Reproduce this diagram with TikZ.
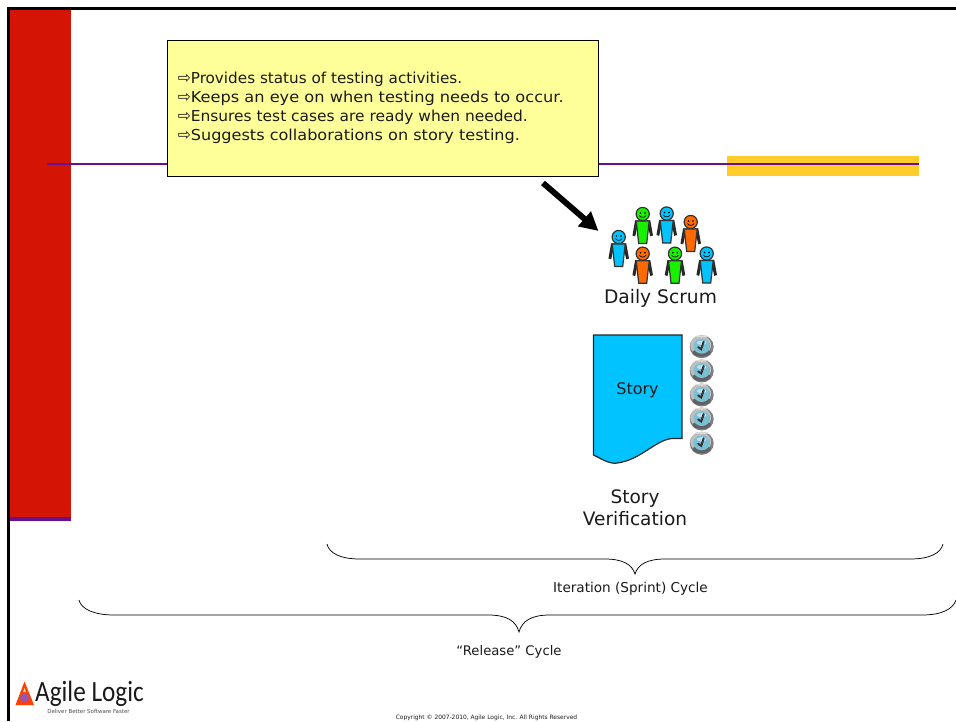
\documentclass[tikz,border=0pt]{standalone}
\usepackage{fontspec}
\usepackage{graphicx}
\setmainfont{DejaVu Sans}
\newfontfamily\logofont{Carlito}
\usetikzlibrary{arrows.meta}
\definecolor{slidered}{HTML}{D41405}
\definecolor{slidepurple}{HTML}{6A0F8E}
\definecolor{slidegold}{HTML}{FFCC29}
\definecolor{noteyellow}{HTML}{FFFF99}
\definecolor{figblue}{HTML}{00C3FF}
\definecolor{figgreen}{HTML}{19F000}
\definecolor{figorange}{HTML}{FF6A00}
\definecolor{clockface}{HTML}{79BFD6}
\definecolor{txt}{HTML}{1A1A1A}
\newcommand{\noteline}[2]{{\fontsize{13pt}{14.25pt}\selectfont\raisebox{-0.2pt}{\scalebox{0.9}[0.95]{⇨}}}\scalebox{#1}[1]{#2}}
\tikzset{
  label text/.style={inner sep=0pt,text=txt,align=center},
  brace line/.style={draw=black,line width=0.55pt},
  person/.pic={
    \draw[line width=1pt,draw=black!85,fill=#1!55!black] (-7,7) -- (-9.5,21) -- (-8,21.5) -- (-6,12) -- (6,12) -- (8,21.5) -- (9.5,21) -- (7,7) -- cycle;
    \draw[line width=0.9pt,draw=black!80,fill=#1] (-6.5,7) -- (6.5,7) -- (4,29.5) -- (-4,29.5) -- cycle;
    \draw[line width=0.9pt,draw=black!80,fill=#1] (0,0) circle[radius=6.6];
    \fill[black] (-2.2,-1) circle[radius=0.9] (2.2,-1) circle[radius=0.9];
    \draw[line width=0.5pt] (-3.4,1.5) .. controls (-1.7,4) and (1.7,4) .. (3.4,1.5);
  },
  clockpic/.pic={
    \fill[black!50] (0,0) ellipse[x radius=12,y radius=11.5];
    \fill[black!25] (-1,-1.5) ellipse[x radius=10.5,y radius=9.5];
    \fill[black!62] (0,6) ellipse[x radius=9,y radius=4];
    \fill[black!15] (0,-10.3) ellipse[x radius=7,y radius=1];
    \fill[clockface] (0,-0.5) ellipse[x radius=8.3,y radius=7.5];
    \fill[clockface!50!white] (0,-4) ellipse[x radius=5,y radius=2.2];
    \draw[line width=1.5pt,black!80,line cap=round] (-3.5,0.5) -- (-0.5,2.5) -- (2,-5);
  }
}
\begin{document}
\begin{tikzpicture}[x=0.75pt,y=-0.75pt]
\useasboundingbox (0,0) rectangle (956,721);
\clip (0,0) rectangle (956,721);
% frame
\fill[black] (7,7) rectangle (956,9.5);
\fill[black] (7,7) rectangle (10,721);
\fill[slidered] (10,9.5) rectangle (71,517);
\fill[slidepurple] (10,517) rectangle (71,521);
\fill[slidegold] (727,156) rectangle (919,176);
\draw[slidepurple,line width=1.5pt] (47,164) -- (919,164);
% note
\node[draw=black,line width=0.8pt,fill=noteyellow,minimum width=323.5pt,minimum height=102pt,inner sep=0pt,anchor=north west] (note) at (167,40) {};
\node[inner sep=0pt,anchor=north west,text=txt,align=left,font=\fontsize{11.3pt}{14.25pt}\selectfont] (notetext) at (177.5,72) {\noteline{1.01}{Provides status of testing activities.}\\\noteline{1.075}{Keeps an eye on when testing needs to occur.}\\\noteline{1.025}{Ensures test cases are ready when needed.}\\\noteline{1.068}{Suggests collaborations on story testing.}};
% arrow
\coordinate (arrowstart) at (543,183);
\coordinate (arrowend) at (598.5,231);
\draw[line width=4.4pt,black,-{Triangle[length=14pt,width=14pt]}] (arrowstart) -- (arrowend);
% people
\pic at (618.7,237) {person=figblue};
\pic at (642.7,214) {person=figgreen};
\pic at (666.7,213.5) {person=figblue};
\pic at (690.7,222) {person=figorange};
\pic at (642.7,253.7) {person=figorange};
\pic at (675,253.7) {person=figgreen};
\pic at (706.7,253.5) {person=figblue};
\node[label text,font=\fontsize{14pt}{16pt}\selectfont] (scrum) at (660.5,298) {Daily Scrum};
% story
\draw[draw=black!85,line width=0.9pt,fill=figblue] (593.5,335) -- (682,335) -- (682,438.5) -- (672,438.5) .. controls (655,440) and (640,461) .. (615,463.3) .. controls (607,463) and (600,458) .. (593.5,455) -- cycle;
\node[label text,font=\fontsize{12pt}{14pt}\selectfont] (story) at (637.5,390) {Story};
% clocks
\foreach \yy in {346.7,371,395,419,443.3}{\pic at (701.7,\yy) {clockpic};}
\node[label text,font=\fontsize{13.9pt}{16.5pt}\selectfont] (verif) at (635,508) {Story\\Verification};
% braces
\draw[brace line] (327,544) .. controls (329,553) and (340,559) .. (360,559) -- (605,559) .. controls (622,559) and (632,564) .. (635,574) .. controls (638,564) and (648,559) .. (665,559) -- (910,559) .. controls (930,559) and (941,553) .. (943,544);
\node[label text,font=\fontsize{10.2pt}{12pt}\selectfont] (iter) at (630.5,589) {Iteration (Sprint) Cycle};
\draw[brace line] (79,600) .. controls (81,609) and (94,615) .. (114,615) -- (488,615) .. controls (507,615) and (516,621) .. (519,632) .. controls (522,621) and (531,615) .. (550,615) -- (922,615) .. controls (942,615) and (953,609) .. (956,600);
\node[label text,font=\fontsize{9.9pt}{12pt}\selectfont] (rel) at (509,652) {“Release” Cycle};
% logo
\fill[orange!50!red] (24.5,681.5) -- (34,705) -- (15.5,705) -- cycle;
\fill[slidepurple!70!white] (24.5,698) circle[radius=4.5];
\fill[white!70!orange] (24.5,688) -- (26,692) -- (23,692) -- cycle;
\node[inner sep=0pt,anchor=west,font=\logofont\fontsize{22pt}{24pt}\selectfont,text=black!90,xscale=0.86] (logo) at (35,694) {Agile Logic};
\node[inner sep=0pt,font=\fontsize{4.1pt}{5pt}\selectfont,text=black!70] (tag) at (88.5,711.5) {Deliver Better Software Faster};
\node[inner sep=0pt,font=\fontsize{4.45pt}{6pt}\selectfont,text=txt] (copy) at (486.5,717.5) {Copyright © 2007-2010, Agile Logic, Inc. All Rights Reserved};
\end{tikzpicture}
\end{document}
